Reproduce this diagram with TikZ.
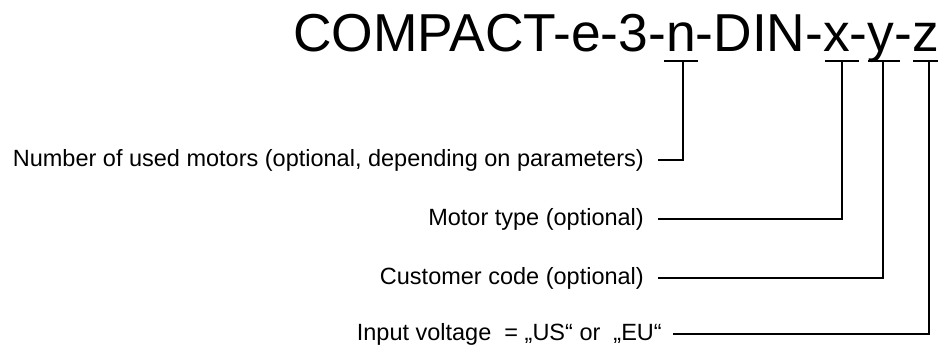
\documentclass[tikz,border=0pt]{standalone}
\usepackage{fontspec}
\setmainfont{Liberation Sans}
\begin{document}
\begin{tikzpicture}[x=1pt,y=-1pt,
  lbl/.style={anchor=east,inner ysep=0pt,inner xsep=14pt,font=\fontsize{23.5}{26}\selectfont},
  conn/.style={draw=black,line width=1.4pt},
  bar/.style={draw=black,line width=1.4pt}]
\clip (0,0) rectangle (938,347);
\fill[white] (0,0) rectangle (938,347);
\node[anchor=base west,inner sep=0pt,font=\fontsize{53.4}{60}\selectfont] (title) at (293,52) {COMPACT-e-3-n-DIN-x-y-z};
% bars under letters
\coordinate (nL) at (664,61); \coordinate (nR) at (698,61); \coordinate (nC) at (683,61);
\coordinate (xL) at (825,61); \coordinate (xR) at (859,61); \coordinate (xC) at (842,61);
\coordinate (yL) at (868,61); \coordinate (yR) at (900,61); \coordinate (yC) at (883,61);
\coordinate (zL) at (913,61); \coordinate (zR) at (945,61); \coordinate (zC) at (929,61);
\draw[bar] (nL) -- (nR);
\draw[bar] (xL) -- (xR);
\draw[bar] (yL) -- (yR);
\draw[bar] (zL) -- (zR);
% labels
\node[lbl] (ln) at (658,160) {Number of used motors (optional, depending on parameters)};
\node[lbl] (lx) at (658,219) {Motor type (optional)};
\node[lbl] (ly) at (658,278) {Customer code (optional)};
\node[lbl,inner xsep=11pt] (lz) at (673,334) {Input voltage \ = „US“ or \ „EU“};
% connectors
\draw[conn] (nC) -- (nC |- ln.east) -- (ln.east);
\draw[conn] (xC) -- (xC |- lx.east) -- (lx.east);
\draw[conn] (yC) -- (yC |- ly.east) -- (ly.east);
\draw[conn] (zC) -- (zC |- lz.east) -- (lz.east);
\end{tikzpicture}
\end{document}
